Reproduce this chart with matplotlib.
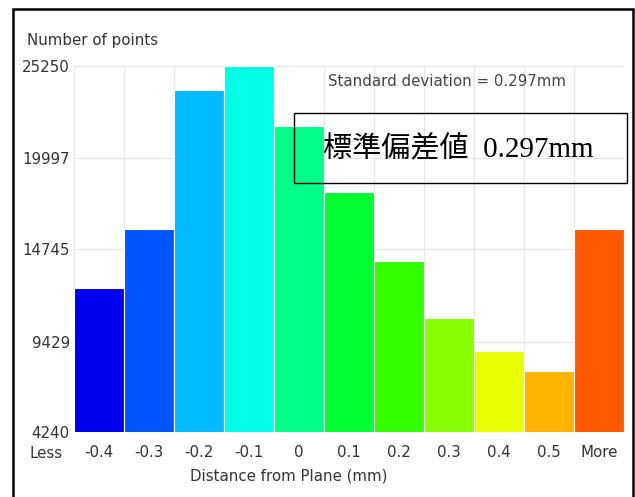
import matplotlib.pyplot as plt
from matplotlib.patches import Rectangle

# histogram bins (distance from plane, mm) and counts
bin_labels = ['-0.4', '-0.3', '-0.2', '-0.1', '0', '0.1', '0.2', '0.3', '0.4', '0.5', 'More']
counts = [12500, 15900, 23870, 25250, 21800, 18020, 14060, 10780, 8890, 7740, 15900]
bar_colors = ['#0000f0', '#0055ff', '#00bbff', '#00ffe4', '#00ff88', '#00ff30',
              '#33ff00', '#88ff00', '#e8ff00', '#ffb400', '#ff5a00']
y_ticks = [4240, 9429, 14745, 19997, 25250]

W, H = 635, 497
fs = 10.8
txt = '#333333'
fig = plt.figure(figsize=(6.35, 4.97), dpi=100)
ax = fig.add_axes([74 / W, 1 - 432 / H, (624 - 74) / W, (432 - 66) / H])

x = list(range(len(counts)))
ax.bar(x, counts, width=1.0, color=bar_colors, edgecolor='white', linewidth=0.8, zorder=2)

ax.set_xlim(-0.5, len(counts) - 0.5)
ax.set_ylim(y_ticks[0], y_ticks[-1])
ax.set_yticks(y_ticks)
ax.set_yticklabels([str(v) for v in y_ticks], fontsize=fs, color=txt)
ax.set_xticks(x)
ax.set_xticklabels(bin_labels, fontsize=fs, color=txt)
ax.tick_params(length=0, pad=3)
ax.tick_params(axis='x', pad=9.5)
fig.text(46 / W, 1 - 453 / H, 'Less', ha='center', va='center', fontsize=fs, color=txt)

# light grid at bin edges and y ticks
for e in [i - 0.5 for i in range(len(counts) + 1)]:
    ax.axvline(e, color='#e6e6e6', linewidth=0.8, zorder=1)
ax.grid(axis='y', color='#e6e6e6', linewidth=0.8, zorder=1)
ax.set_axisbelow(True)
for s in ax.spines.values():
    s.set_visible(False)

fig.text(289 / W, 1 - 476 / H, 'Distance from Plane (mm)', ha='center', va='center', fontsize=fs, color=txt)
fig.text(27 / W, 1 - 41 / H, 'Number of points', fontsize=fs, color=txt, va='center')
fig.text(328 / W, 1 - 82 / H, 'Standard deviation = 0.297mm', fontsize=fs, color='#444444', va='center')

# boxed Japanese annotation
fig.patches.append(Rectangle((294 / W, 1 - 183 / H), (627 - 294) / W, (183 - 113) / H,
                             transform=fig.transFigure, fill=False, edgecolor='black', linewidth=1.0))
fig.text(323 / W, 1 - 150 / H, '標準偏差値  0.297mm', fontsize=21,
         family=['Liberation Serif', 'Noto Sans CJK JP'], va='center', color='black')

# outer frame
fig.patches.append(Rectangle((13 / W, -0.05), (633 - 13) / W, 1 - 9 / H + 0.05,
                             transform=fig.transFigure, fill=False, edgecolor='black', linewidth=1.8))

fig.savefig('out.png', dpi=100)
